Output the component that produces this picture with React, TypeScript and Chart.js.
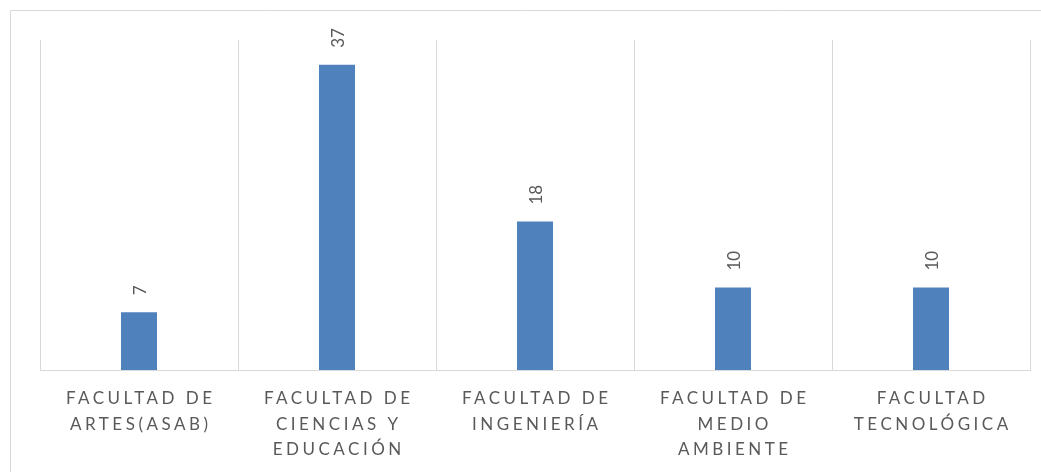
import React, { useEffect, useRef } from "react";
import { Chart, registerables } from "chart.js";

Chart.register(...registerables);

const categories: string[][] = [
  ["FACULTAD DE", "ARTES(ASAB)"],
  ["FACULTAD DE", "CIENCIAS Y", "EDUCACIÓN"],
  ["FACULTAD DE", "INGENIERÍA"],
  ["FACULTAD DE", "MEDIO", "AMBIENTE"],
  ["FACULTAD", "TECNOLÓGICA"],
];
const values: number[] = [7, 37, 18, 10, 10];
const yMin = 0;
const yMax = 40;

const BAR_COLOR = "#4F81BD";
const GRID_COLOR = "#D9D9D9";
const TEXT_COLOR = "#595959";
const FONT = "Lato, 'Open Sans', sans-serif";

const framePlugin = {
  id: "frame",
  beforeDraw(chart: any) {
    const ctx = chart.ctx;
    ctx.save();
    ctx.fillStyle = "#ffffff";
    ctx.fillRect(0, 0, chart.width, chart.height);
    ctx.strokeStyle = GRID_COLOR;
    ctx.lineWidth = 1;
    ctx.beginPath();
    ctx.moveTo(10.5, chart.height);
    ctx.lineTo(10.5, 10.5);
    ctx.lineTo(chart.width, 10.5);
    ctx.stroke();
    ctx.restore();
  },
};

const labelsPlugin = {
  id: "customLabels",
  afterDatasetsDraw(chart: any) {
    const ctx = chart.ctx;
    const meta = chart.getDatasetMeta(0);
    ctx.save();
    ctx.fillStyle = TEXT_COLOR;
    // data labels, rotated
    ctx.font = `17px ${FONT}`;
    (ctx as any).letterSpacing = "0px";
    meta.data.forEach((el: any, i: number) => {
      const txt = String(values[i]);
      const m = ctx.measureText(txt);
      const capH = m.actualBoundingBoxAscent;
      ctx.save();
      ctx.translate(el.x, el.y - 17);
      ctx.rotate(-Math.PI / 2);
      ctx.textAlign = "left";
      ctx.textBaseline = "alphabetic";
      ctx.fillText(txt, 0, capH / 2);
      ctx.restore();
    });
    // category labels with letter spacing
    const xScale = chart.scales.x;
    const spacing = 3.5;
    ctx.font = `17px ${FONT}`;
    (ctx as any).letterSpacing = `${spacing}px`;
    ctx.textAlign = "left";
    ctx.textBaseline = "alphabetic";
    categories.forEach((lines, i) => {
      const cx = xScale.getPixelForValue(i);
      lines.forEach((line, j) => {
        const w = ctx.measureText(line).width - spacing;
        ctx.fillText(line, cx - w / 2, 404 + j * 25.5);
      });
    });
    ctx.restore();
  },
};

export default function App() {
  const canvasRef = useRef<HTMLCanvasElement | null>(null);

  useEffect(() => {
    const canvas = canvasRef.current;
    if (!canvas) return;
    const chart = new Chart(canvas, {
      type: "bar",
      data: {
        labels: categories.map((c) => c.join(" ")),
        datasets: [
          {
            data: values,
            backgroundColor: BAR_COLOR,
            borderWidth: 0,
            categoryPercentage: 1,
            barPercentage: 0.182,
          },
        ],
      },
      options: {
        responsive: false,
        animation: false,
        devicePixelRatio: 1,
        layout: { padding: { left: 40, right: 11, top: 40, bottom: 0 } },
        plugins: {
          legend: { display: false },
          tooltip: { enabled: false },
          title: { display: false },
        },
        scales: {
          x: {
            offset: true,
            grid: {
              offset: true,
              color: GRID_COLOR,
              lineWidth: 1,
              drawTicks: false,
              tickLength: 0,
            },
            border: { display: true, color: GRID_COLOR, width: 1 },
            ticks: { display: false },
            afterFit(scale: any) {
              scale.height = 102;
            },
          },
          y: {
            display: false,
            min: yMin,
            max: yMax,
          },
        },
      },
      plugins: [framePlugin, labelsPlugin],
    });
    return () => chart.destroy();
  }, []);

  return (
    <canvas
      ref={canvasRef}
      width={1041}
      height={472}
      style={{ position: "fixed", left: 0, top: 0, width: 1041, height: 472, display: "block" }}
    />
  );
}
